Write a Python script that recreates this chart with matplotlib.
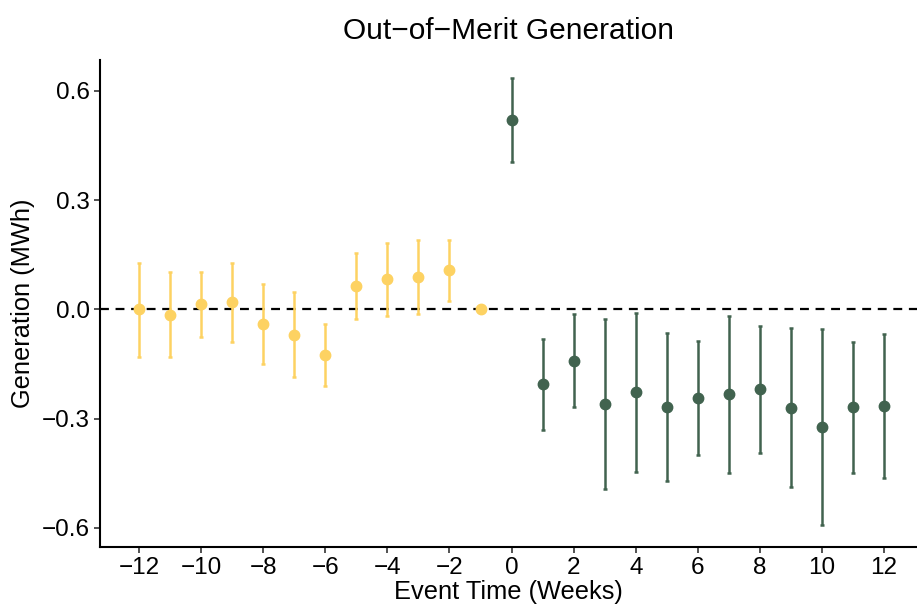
import matplotlib
matplotlib.use("Agg")
import matplotlib.pyplot as plt
import numpy as np

plt.rcParams['font.family'] = ['Liberation Sans', 'DejaVu Sans']

# pre-period (weeks -12 .. -1)
pre_weeks = np.arange(-12, 0)
pre_est = [0.0, -0.016, 0.015, 0.019, -0.041, -0.070, -0.126, 0.065, 0.083, 0.089, 0.107, 0.0]
pre_hi = [0.128, 0.102, 0.103, 0.128, 0.069, 0.048, -0.040, 0.154, 0.183, 0.190, 0.190, 0.0]
pre_lo = [-0.130, -0.130, -0.075, -0.090, -0.150, -0.187, -0.211, -0.026, -0.017, -0.014, 0.023, 0.0]

# post-period (weeks 0 .. 12)
post_weeks = np.arange(0, 13)
post_est = [0.521, -0.205, -0.141, -0.261, -0.228, -0.268, -0.243, -0.233, -0.220, -0.270, -0.324, -0.269, -0.266]
post_hi = [0.635, -0.081, -0.014, -0.027, -0.011, -0.064, -0.086, -0.018, -0.045, -0.051, -0.053, -0.089, -0.068]
post_lo = [0.406, -0.330, -0.269, -0.494, -0.446, -0.471, -0.401, -0.450, -0.395, -0.488, -0.592, -0.450, -0.464]

x_ticks = list(range(-12, 13, 2))
y_ticks = [-0.6, -0.3, 0.0, 0.3, 0.6]

yellow = '#FDD262'
green = '#41634F'

fig = plt.figure(figsize=(9.17, 6.12), dpi=100)
ax = fig.add_axes([0.109, 0.106, 0.891, 0.796])

ax.axhline(0, color='black', linestyle=(0, (4, 3)), linewidth=1.6, zorder=1)

for weeks, est, lo, hi, col in [(pre_weeks, pre_est, pre_lo, pre_hi, yellow),
                                (post_weeks, post_est, post_lo, post_hi, green)]:
    est = np.array(est)
    err = [est - np.array(lo), np.array(hi) - est]
    ax.errorbar(weeks, est, yerr=err, fmt='o', color=col, ecolor=col,
                markersize=7.5, elinewidth=1.8, capsize=1.2, capthick=1.8, zorder=3)

ax.set_xlim(-13.26, 13.06)
ax.set_ylim(-0.653, 0.685)
ax.set_xticks(x_ticks)
ax.set_xticklabels([str(t).replace('-', '\u2212') for t in x_ticks])
ax.set_yticks(y_ticks)
ax.set_yticklabels([f'{t:.1f}'.replace('-', '\u2212') for t in y_ticks])

for s in ['top', 'right']:
    ax.spines[s].set_visible(False)
for s in ['left', 'bottom']:
    ax.spines[s].set_linewidth(1.5)
ax.tick_params(axis='both', labelsize=17.5, width=1.2, length=4.5, pad=2.5,
               color='#333333', labelcolor='black')

ax.set_title('Out\u2212of\u2212Merit Generation', fontsize=21.5, pad=15)
ax.set_xlabel('Event Time (Weeks)', fontsize=18.3, labelpad=1)
ax.set_ylabel('Generation (MWh)', fontsize=18.3, labelpad=5)

fig.savefig('out.png', dpi=100)
